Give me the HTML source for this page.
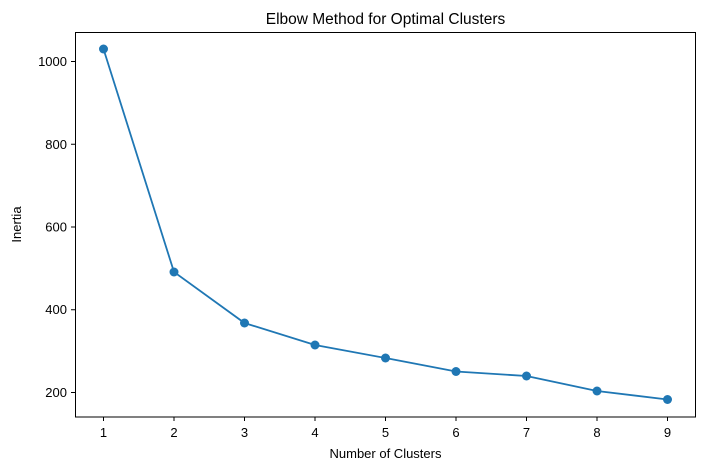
<!DOCTYPE html><html><head><style>body{margin:0;background:#fff}</style></head><body>
<svg width="704" height="470" xmlns="http://www.w3.org/2000/svg" font-family="Liberation Sans, DejaVu Sans, sans-serif" font-size="13">
<rect x="75.5" y="32.5" width="620" height="384.5" fill="none" stroke="#000" stroke-width="1"/>
<g stroke="#000">
<line x1="103.5" y1="417" x2="103.5" y2="421"/><line x1="174" y1="417" x2="174" y2="421"/><line x1="244.5" y1="417" x2="244.5" y2="421"/><line x1="315" y1="417" x2="315" y2="421"/><line x1="385.5" y1="417" x2="385.5" y2="421"/><line x1="456" y1="417" x2="456" y2="421"/><line x1="526.5" y1="417" x2="526.5" y2="421"/><line x1="597" y1="417" x2="597" y2="421"/><line x1="667.5" y1="417" x2="667.5" y2="421"/>
<line x1="71" y1="61.5" x2="75.5" y2="61.5"/><line x1="71" y1="144.25" x2="75.5" y2="144.25"/><line x1="71" y1="227" x2="75.5" y2="227"/><line x1="71" y1="309.75" x2="75.5" y2="309.75"/><line x1="71" y1="392.5" x2="75.5" y2="392.5"/>
</g>
<g text-anchor="middle"><text x="103.5" y="437">1</text><text x="174" y="437">2</text><text x="244.5" y="437">3</text><text x="315" y="437">4</text><text x="385.5" y="437">5</text><text x="456" y="437">6</text><text x="526.5" y="437">7</text><text x="597" y="437">8</text><text x="667.5" y="437">9</text></g>
<g text-anchor="end"><text x="67" y="66">1000</text><text x="67" y="149">800</text><text x="67" y="231.5">600</text><text x="67" y="314">400</text><text x="67" y="397">200</text></g>
<text x="385.5" y="458" text-anchor="middle">Number of Clusters</text>
<text x="21" y="224.5" text-anchor="middle" transform="rotate(-90 21 224.5)">Inertia</text>
<text x="385.5" y="24" text-anchor="middle" font-size="15.5">Elbow Method for Optimal Clusters</text>
<polyline fill="none" stroke="#1f77b4" stroke-width="1.8" points="103.5,49 174,272 244.5,323 315,345 385.5,358 456,371.5 526.5,376 597,391 667.5,399.5"/>
<g fill="#1f77b4"><circle cx="103.5" cy="49" r="4.5"/><circle cx="174" cy="272" r="4.5"/><circle cx="244.5" cy="323" r="4.5"/><circle cx="315" cy="345" r="4.5"/><circle cx="385.5" cy="358" r="4.5"/><circle cx="456" cy="371.5" r="4.5"/><circle cx="526.5" cy="376" r="4.5"/><circle cx="597" cy="391" r="4.5"/><circle cx="667.5" cy="399.5" r="4.5"/></g>
</svg></body></html>
